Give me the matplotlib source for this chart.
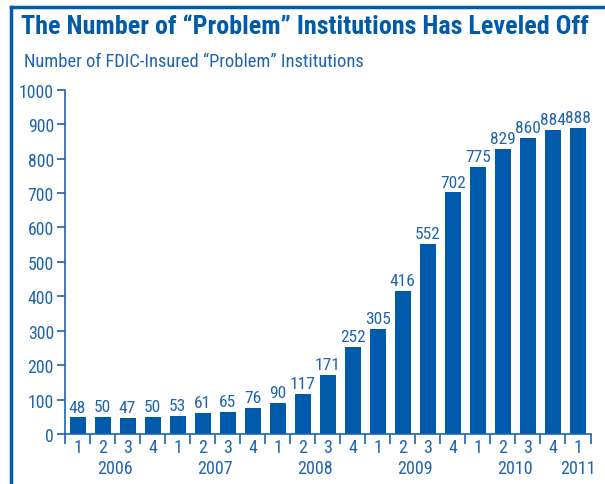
import matplotlib.pyplot as plt
from matplotlib.lines import Line2D
import matplotlib.transforms as mtransforms

# data
quarters = ['1', '2', '3', '4'] * 5 + ['1']
years = ['2006', '2007', '2008', '2009', '2010', '2011']
year_pos = [1.5, 5.5, 9.5, 13.5, 17.5, 20]
problem_banks = [48, 50, 47, 50, 53, 61, 65, 76, 90, 117, 171, 252,
                 305, 416, 552, 702, 775, 829, 860, 884, 888]

bar_color = '#005BAA'
text_color = '#1F64AF'
plt.rcParams['font.family'] = ['Roboto Condensed', 'DejaVu Sans']

fig = plt.figure(figsize=(6.05, 4.85), dpi=100)
W, H = 605, 485
ax = fig.add_axes([65 / W, 1 - 435 / H, (590.5 - 65) / W, (435 - 90.7) / H])

x = list(range(len(problem_banks)))
bars = ax.bar(x, problem_banks, width=0.64, color=bar_color)
ax.bar_label(bars, labels=[str(v) for v in problem_banks], padding=2,
             color=text_color, fontsize=12.5)

ax.set_xlim(-0.5, len(x) - 0.5)
ax.set_ylim(0, 1000)
ax.set_yticks(range(0, 1001, 100))
ax.tick_params(axis='y', colors=text_color, labelcolor=text_color, labelsize=12.8,
               length=6, width=1.2, pad=2)

# boundary ticks (major) and quarter labels (minor)
ax.set_xticks([i - 0.5 for i in range(len(x) + 1)])
ax.set_xticklabels([])
ax.set_xticks(x, minor=True)
ax.set_xticklabels(quarters, minor=True)
ax.tick_params(axis='x', which='major', colors=text_color, length=7, width=1.2)
ax.tick_params(axis='x', which='minor', length=0, labelcolor=text_color,
               labelsize=13, pad=3)

trans = mtransforms.blended_transform_factory(ax.transData, fig.transFigure)
for yr, p in zip(years, year_pos):
    ax.text(p, 1 - 469 / H, yr, transform=trans, ha='center', va='center',
            color=text_color, fontsize=13)

for s in ['top', 'right']:
    ax.spines[s].set_visible(False)
for s in ['left', 'bottom']:
    ax.spines[s].set_color(text_color)
    ax.spines[s].set_linewidth(1.2)

# title and subtitle
fig.text(21 / W, 1 - 27 / H, 'The Number of \u201cProblem\u201d Institutions Has Leveled Off',
         fontsize=18.8, fontweight='bold', color=bar_color, va='center', ha='left')
fig.text(24 / W, 1 - 62 / H, 'Number of FDIC-Insured \u201cProblem\u201d Institutions',
         fontsize=13.3, color=text_color, va='center', ha='left')

# frame lines
fig.add_artist(Line2D([11 / W, 1], [1 - 8 / H, 1 - 8 / H], transform=fig.transFigure,
                      color=bar_color, linewidth=2.5))
fig.add_artist(Line2D([11 / W, 11 / W], [1 - 8 / H, 0], transform=fig.transFigure,
                      color=bar_color, linewidth=2.5))

fig.savefig('out.png', dpi=100)
